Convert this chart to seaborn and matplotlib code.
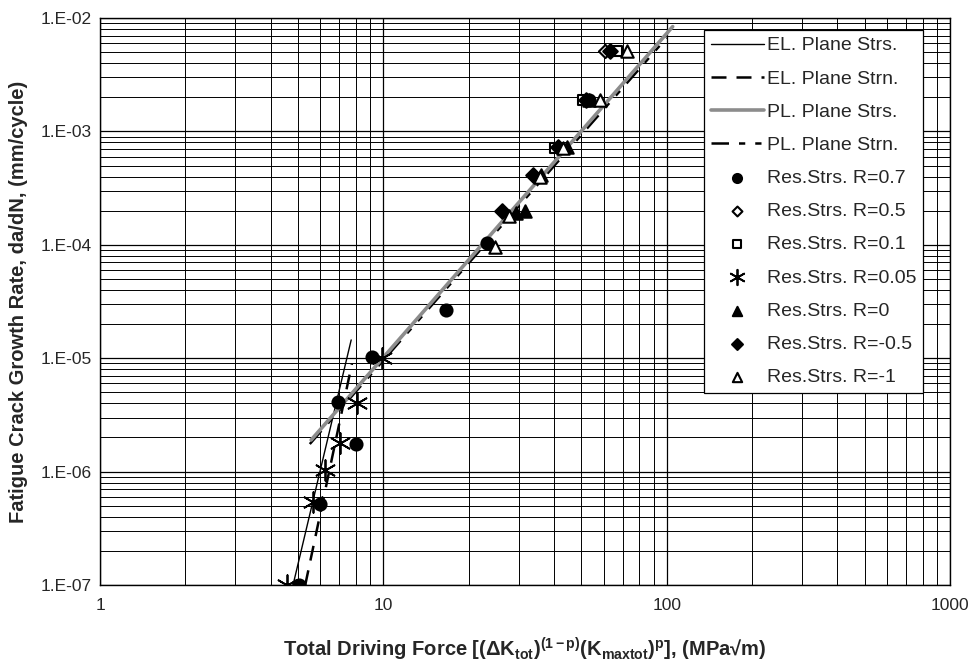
# ==== IMPORT LIBRARIES ====
import numpy as np
import matplotlib
matplotlib.use("Agg")
import matplotlib.pyplot as plt
import seaborn as sns

# ==== DATA ====
# fitted curves
el_strs_x = [4.8, 7.7]
el_strs_y = [1.0e-7, 1.45e-5]
el_strn_x = [5.3, 7.75]
el_strn_y = [1.0e-7, 9.0e-6]
pl_strs_x = [5.56, 105.0]
pl_strs_y = [1.9e-6, 8.4e-3]
pl_strn_x = [5.5, 100.0]
pl_strn_y = [1.75e-6, 6.7e-3]

# residual stress test points
r07_x = [5.05, 5.98, 6.94, 8.0, 9.1, 16.7, 23.2, 53.3]
r07_y = [1.0e-7, 5.2e-7, 4.1e-6, 1.75e-6, 1.02e-5, 2.65e-5, 1.03e-4, 1.9e-3]
r05_x = [60.6]
r05_y = [5.1e-3]
r01_x = [40.3, 50.6, 66.7]
r01_y = [7.2e-4, 1.88e-3, 5.1e-3]
r005_x = [4.56, 5.66, 6.2, 7.03, 8.09, 9.87]
r005_y = [1.0e-7, 5.4e-7, 1.03e-6, 1.78e-6, 4.0e-6, 1.0e-5]
r0_x = [29.4, 31.6, 36.0, 44.4, 53.3]
r0_y = [1.92e-4, 2.0e-4, 4.1e-4, 7.3e-4, 1.9e-3]
rm05_x = [26.2, 33.8, 41.5, 52.0, 63.1]
rm05_y = [2.0e-4, 4.1e-4, 7.3e-4, 1.9e-3, 5.1e-3]
rm1_x = [24.8, 27.8, 35.7, 43.2, 58.2, 72.3]
rm1_y = [9.6e-5, 1.8e-4, 4.0e-4, 7.2e-4, 1.88e-3, 5.1e-3]

y_ticks = [1e-7, 1e-6, 1e-5, 1e-4, 1e-3, 1e-2]
y_labels = ["1.E-07", "1.E-06", "1.E-05", "1.E-04", "1.E-03", "1.E-02"]
x_ticks = [1, 10, 100, 1000]
x_labels = ["1", "10", "100", "1000"]

# ==== STYLE ====
sns.set_style("white")
plt.rcParams["font.family"] = ["Liberation Sans", "DejaVu Sans"]
plt.rcParams["mathtext.fontset"] = "custom"
plt.rcParams["mathtext.rm"] = "Liberation Sans:bold"
plt.rcParams["mathtext.it"] = "Liberation Sans:bold"
plt.rcParams["mathtext.bf"] = "Liberation Sans:bold"

fig = plt.figure(figsize=(9.72, 6.65), dpi=100)
ax = fig.add_axes([0.1029, 0.1203, 0.8745, 0.8526])
ax.set_xscale("log")
ax.set_yscale("log")

# ==== LINES ====
sns.lineplot(x=el_strs_x, y=el_strs_y, ax=ax, color="black", linewidth=1.0,
             label="EL. Plane Strs.")
sns.lineplot(x=el_strn_x, y=el_strn_y, ax=ax, color="black", linewidth=1.8,
             linestyle=(0, (6, 4)), label="EL. Plane Strn.")
sns.lineplot(x=pl_strs_x, y=pl_strs_y, ax=ax, color="#8c8c8c", linewidth=2.6,
             label="PL. Plane Strs.", zorder=4)
sns.lineplot(x=pl_strn_x, y=pl_strn_y, ax=ax, color="black", linewidth=1.8,
             linestyle=(0, (7, 4, 2.5, 4, 2.5, 4)), label="PL. Plane Strn.", zorder=3)

# ==== POINTS ====
pts = [
    (r07_x, r07_y, "o", "black", "black", 75, "Res.Strs. R=0.7"),
    (r05_x, r05_y, "D", "white", "black", 45, "Res.Strs. R=0.5"),
    (r01_x, r01_y, "s", "white", "black", 60, "Res.Strs. R=0.1"),
    (r005_x, r005_y, (6, 2, 0), "black", "black", 220, "Res.Strs. R=0.05"),
    (r0_x, r0_y, "^", "black", "black", 80, "Res.Strs. R=0"),
    (rm05_x, rm05_y, "D", "black", "black", 55, "Res.Strs. R=-0.5"),
    (rm1_x, rm1_y, "^", "white", "black", 80, "Res.Strs. R=-1"),
]
for xs, ys, mk, fc, ec, sz, lab in pts:
    if isinstance(mk, tuple):
        sns.scatterplot(x=xs, y=ys, ax=ax, marker=mk, color=ec, s=sz,
                        linewidth=1.3, label=lab, zorder=5)
    else:
        sns.scatterplot(x=xs, y=ys, ax=ax, marker=mk, facecolor=fc, edgecolor=ec,
                        s=sz, linewidth=1.5, label=lab, zorder=5)

# ==== AXES ====
ax.set_xlim(1, 1000)
ax.set_ylim(1e-7, 1e-2)
ax.set_xticks(x_ticks)
ax.set_xticklabels(x_labels, fontsize=12.5)
ax.set_yticks(y_ticks)
ax.set_yticklabels(y_labels, fontsize=12.5)
ax.tick_params(axis="both", which="both", length=0, pad=6)
ax.tick_params(axis="x", pad=9)
ax.grid(True, which="major", color="black", linewidth=0.9)
ax.grid(True, which="minor", color="black", linewidth=0.7)
for s in ax.spines.values():
    s.set_color("black")
    s.set_linewidth(1.0)

ax.set_xlabel(r"Total Driving Force [($\Delta$K$_{tot}$)$^{(1-p)}$(K$_{maxtot}$)$^{p}$], (MPa√m)",
              fontsize=14.5, fontweight="bold")
ax.set_ylabel("Fatigue Crack Growth Rate, da/dN, (mm/cycle)", fontsize=14.5,
              fontweight="bold")
ax.xaxis.set_label_coords(0.5, -0.09)
ax.yaxis.set_label_coords(-0.085, 0.5)

leg = ax.legend(loc="upper right", bbox_to_anchor=(0.968, 0.979), fontsize=14,
                frameon=True, fancybox=False, framealpha=1, edgecolor="black",
                handlelength=2.7, handletextpad=0.15, labelspacing=0.8,
                borderpad=0.35, markerscale=0.75, borderaxespad=0)
leg.get_frame().set_linewidth(0.9)
leg.set_zorder(10)

plt.savefig("out.png", dpi=100)
